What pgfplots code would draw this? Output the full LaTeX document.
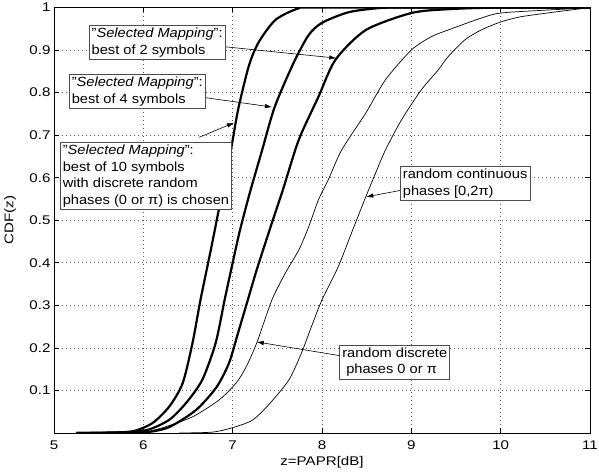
\documentclass[border=0pt]{standalone}
\usepackage{pgfplots}
\pgfplotsset{compat=1.18}
\usepackage{fontspec}
\setmainfont{Liberation Sans}[FakeStretch=1.1]
\newfontfamily\tickfont{Liberation Sans}[FakeStretch=1.2]
\usetikzlibrary{arrows.meta,calc}
\newcommand{\boxfont}{\fontsize{13.3}{16.5}\selectfont}
\begin{document}
\begin{tikzpicture}
\begin{axis}[
  scale only axis, width=536pt, height=425.5pt,
  xmin=5, xmax=11, ymin=0, ymax=1,
  xtick={5,6,7,8,9,10,11},
  ytick={0.1,0.2,0.3,0.4,0.5,0.6,0.7,0.8,0.9,1},
  yticklabels={0.1,0.2,0.3,0.4,0.5,0.6,0.7,0.8,0.9,1},
  /pgf/number format/assume math mode=true,
  grid=major,
  major grid style={dash pattern=on 0.8pt off 3.2pt, line width=0.6pt, black!65},
  axis line style={line width=0.9pt},
  tick style={line width=0.6pt, black},
  major tick length=5pt,
  ticklabel style={font=\tickfont\fontsize{12.6}{14}\selectfont},
  xticklabel style={yshift=-4pt, inner xsep=0pt},
  label style={font=\tickfont\fontsize{12.6}{14}\selectfont},
  xlabel={z=PAPR[dB]}, ylabel={CDF(z)},
  xlabel style={at={(axis description cs:0.5,-0.068)}, anchor=center},
  ylabel style={at={(axis description cs:-0.082,0.5)}, anchor=center},
  every axis plot/.append style={smooth, tension=0.45, line join=round, black},
]
% best of 10
\addplot[line width=2.2pt] coordinates {
(5.25,0) (5.6,0.001) (5.88,0.004) (6.1,0.023) (6.29,0.062) (6.44,0.117)
(6.55,0.211) (6.64,0.313) (6.755,0.43) (6.867,0.548) (6.98,0.665) (7.06,0.759)
(7.18,0.862) (7.29,0.918) (7.48,0.971) (7.74,0.998) (8.0,1.0) (11,1.0)};
% best of 4
\addplot[line width=2.2pt] coordinates {
(5.25,0) (5.7,0.001) (6.04,0.007) (6.29,0.031) (6.48,0.071) (6.66,0.125)
(6.81,0.212) (6.91,0.313) (7.0,0.40) (7.08,0.475) (7.19,0.563) (7.33,0.665)
(7.47,0.766) (7.68,0.869) (7.85,0.935) (8.0,0.964) (8.30,0.989) (8.66,0.999) (9.0,1.0) (11,1.0)};
% best of 2
\addplot[line width=2.2pt] coordinates {
(5.25,0) (5.7,0.0005) (6.04,0.002) (6.29,0.014) (6.59,0.054) (6.82,0.108)
(6.96,0.165) (7.06,0.235) (7.17,0.313) (7.27,0.384) (7.41,0.475) (7.56,0.57)
(7.74,0.689) (7.96,0.79) (8.15,0.877) (8.49,0.947) (9.0,0.987) (9.41,0.996) (10.0,1.0) (11,1.0)};
% random discrete
\addplot[line width=0.7pt] coordinates {
(5.5,0) (5.96,0.001) (6.21,0.012) (6.55,0.038) (6.85,0.078) (7.04,0.118)
(7.15,0.155) (7.27,0.212) (7.44,0.313) (7.59,0.376) (7.74,0.43) (7.85,0.484)
(7.96,0.548) (8.07,0.595) (8.22,0.665) (8.49,0.752) (8.71,0.83) (9.0,0.90)
(9.22,0.931) (9.41,0.947) (9.78,0.975) (10.0,0.987) (10.52,0.994) (11,0.999)};
% random continuous
\addplot[line width=0.7pt] coordinates {
(6.4,0) (6.77,0.002) (6.99,0.012) (7.22,0.03) (7.41,0.068) (7.63,0.125)
(7.77,0.188) (7.88,0.249) (8.0,0.313) (8.18,0.39) (8.33,0.47) (8.49,0.555)
(8.60,0.611) (8.71,0.665) (8.89,0.736) (9.11,0.806) (9.30,0.853) (9.41,0.884)
(9.60,0.924) (9.78,0.947) (10.0,0.966) (10.22,0.978) (10.52,0.987) (10.97,0.999) (11,1.0)};
% arrows
\draw[line width=0.6pt, -{Latex[length=7pt,width=4.5pt]}] (axis cs:6.9,0.908) -- (axis cs:8.16,0.881);
\draw[line width=0.6pt, -{Latex[length=7pt,width=4.5pt]}] (axis cs:6.7,0.788) -- (axis cs:7.44,0.766);
\draw[line width=0.6pt, -{Latex[length=7pt,width=4.5pt]}] (axis cs:6.625,0.695) -- (axis cs:7.015,0.729);
\draw[line width=0.6pt, -{Latex[length=7pt,width=4.5pt]}] (axis cs:8.9,0.571) -- (axis cs:8.495,0.555);
\draw[line width=0.6pt, -{Latex[length=7pt,width=4.5pt]}] (axis cs:8.22,0.181) -- (axis cs:7.27,0.214);
% boxes
\node[draw=black!70, line width=0.7pt, fill=white, align=left, anchor=west, inner sep=2.5pt, font=\boxfont]
  at (axis cs:5.39,0.918) {"\textit{Selected Mapping}":\\best of 2 symbols};
\node[draw=black!70, line width=0.7pt, fill=white, align=left, anchor=west, inner sep=2.5pt, font=\boxfont]
  at (axis cs:5.167,0.803) {"\textit{Selected Mapping}":\\best of 4 symbols};
\node[draw=black!70, line width=0.7pt, fill=white, align=left, anchor=west, inner sep=2.5pt, font=\boxfont]
  at (axis cs:5.067,0.604) {"\textit{Selected Mapping}":\\best of 10 symbols\\with discrete random\\phases (0 or π) is chosen};
\node[draw=black!70, line width=0.7pt, fill=white, align=left, anchor=west, inner sep=2.5pt, font=\boxfont]
  at (axis cs:8.874,0.586) {random continuous\\phases [0,2π)};
\node[draw=black!70, line width=0.7pt, fill=white, align=left, anchor=west, inner sep=2.5pt, font=\boxfont]
  at (axis cs:8.195,0.167) {random discrete\\\hspace*{0.3em}phases 0 or π};
\end{axis}
\pgfresetboundingbox
\path[use as bounding box] ($(current axis.south west)+(-54pt,-41pt)$) rectangle ($(current axis.north east)+(9pt,7.5pt)$);
\end{tikzpicture}
\end{document}
